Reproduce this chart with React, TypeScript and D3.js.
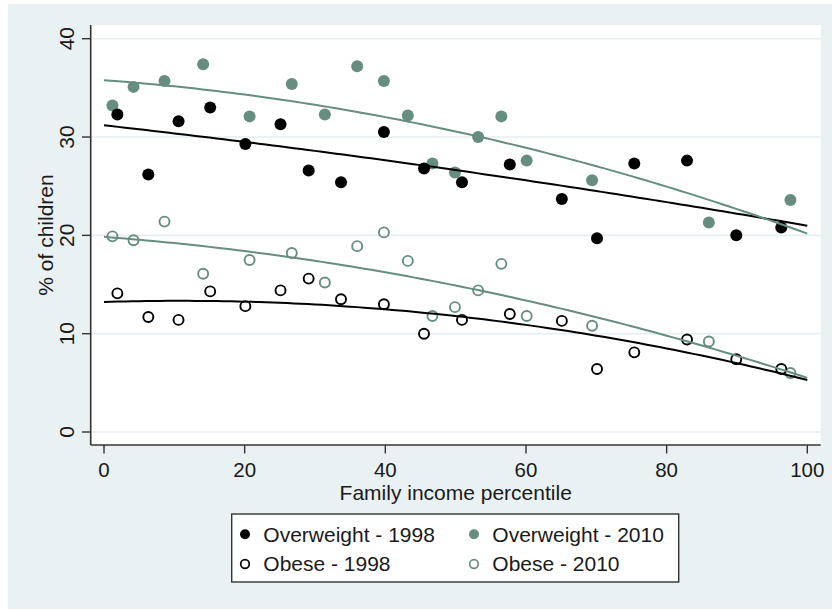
import React from "react";
import * as d3 from "d3";

// Percentile-bin means (x) and prevalence (%) for each survey year
const x1998: number[] = [1.9, 6.3, 10.6, 15.1, 20.1, 25.1, 29.1, 33.7, 39.8, 45.5, 50.9, 57.7, 65.1, 70.1, 75.4, 82.9, 89.9, 96.3];
const overweight1998: number[] = [32.3, 26.2, 31.6, 33.0, 29.3, 31.3, 26.6, 25.4, 30.5, 26.8, 25.4, 27.2, 23.7, 19.7, 27.3, 27.6, 20.0, 20.8];
const obese1998: number[] = [14.1, 11.7, 11.4, 14.3, 12.8, 14.4, 15.6, 13.5, 13.0, 10.0, 11.4, 12.0, 11.3, 6.4, 8.1, 9.4, 7.4, 6.4];

const x2010: number[] = [1.2, 4.2, 8.6, 14.1, 20.7, 26.7, 31.4, 36.0, 39.8, 43.2, 46.7, 49.9, 53.2, 56.5, 60.1, 69.4, 86.0, 97.6];
const overweight2010: number[] = [33.2, 35.1, 35.7, 37.4, 32.1, 35.4, 32.3, 37.2, 35.7, 32.2, 27.3, 26.4, 30.0, 32.1, 27.6, 25.6, 21.3, 23.6];
const obese2010: number[] = [19.9, 19.5, 21.4, 16.1, 17.5, 18.2, 15.2, 18.9, 20.3, 17.4, 11.8, 12.7, 14.4, 17.1, 11.8, 10.8, 9.2, 6.0];

const xTicks: number[] = [0, 20, 40, 60, 80, 100];
const yTicks: number[] = [0, 10, 20, 30, 40];

const legendLabels: string[] = ["Overweight - 1998", "Overweight - 2010", "Obese - 1998", "Obese - 2010"];

const BLACK = "#000000";
const GREEN = "#668d7f";
const FONT = "'Liberation Sans', Arial, Helvetica, sans-serif";

// Least-squares quadratic fit y = a + b x + c x^2
function quadFit(xs: number[], ys: number[]): (x: number) => number {
  let s0 = 0, s1 = 0, s2 = 0, s3 = 0, s4 = 0, t0 = 0, t1 = 0, t2 = 0;
  xs.forEach((x, i) => {
    const y = ys[i];
    s0 += 1; s1 += x; s2 += x * x; s3 += x * x * x; s4 += x * x * x * x;
    t0 += y; t1 += x * y; t2 += x * x * y;
  });
  const M = [
    [s0, s1, s2, t0],
    [s1, s2, s3, t1],
    [s2, s3, s4, t2],
  ];
  for (let i = 0; i < 3; i++) {
    for (let k = i + 1; k < 3; k++) {
      const f = M[k][i] / M[i][i];
      for (let j = i; j < 4; j++) M[k][j] -= f * M[i][j];
    }
  }
  const c = M[2][3] / M[2][2];
  const b = (M[1][3] - M[1][2] * c) / M[1][1];
  const a = (M[0][3] - M[0][1] * b - M[0][2] * c) / M[0][0];
  return (x: number) => a + b * x + c * x * x;
}

export default function App() {
  const W = 832;
  const H = 610;
  const plot = { left: 90.7, right: 820.7, top: 25, bottom: 445 };

  const x = d3.scaleLinear().domain([0, 100]).range([104, 807.3]);
  const y = d3.scaleLinear().domain([0, 40]).range([432, 38.7]);

  const fitXs = d3.range(0, 100.01, 1);
  const line = d3
    .line<number[]>()
    .x((d) => x(d[0]))
    .y((d) => y(d[1]));

  const fitPath = (xs: number[], ys: number[]) => {
    const f = quadFit(xs, ys);
    return line(fitXs.map((v) => [v, f(v)])) || "";
  };

  const filled = (xs: number[], ys: number[], color: string, key: string) =>
    xs.map((v, i) => (
      <circle key={key + i} cx={x(v)} cy={y(ys[i])} r={6} fill={color} />
    ));
  const hollow = (xs: number[], ys: number[], color: string, key: string) =>
    xs.map((v, i) => (
      <circle key={key + i} cx={x(v)} cy={y(ys[i])} r={5} fill="none" stroke={color} strokeWidth={1.9} />
    ));

  const legendItems = [
    { label: legendLabels[0], color: BLACK, solid: true, col: 0, row: 0 },
    { label: legendLabels[1], color: GREEN, solid: true, col: 1, row: 0 },
    { label: legendLabels[2], color: BLACK, solid: false, col: 0, row: 1 },
    { label: legendLabels[3], color: GREEN, solid: false, col: 1, row: 1 },
  ];
  const legendColX = [245, 474];
  const legendRowY = [534.3, 564];

  return (
    <svg
      width={W}
      height={H}
      style={{ position: "absolute", left: 0, top: 0, display: "block" }}
      fontFamily={FONT}
    >
      <rect x={0} y={0} width={W} height={H} fill="#ffffff" />
      <rect x={8} y={4} width={W - 8} height={605} fill="#e9f1f3" />
      <rect
        x={plot.left}
        y={plot.top}
        width={plot.right - plot.left}
        height={plot.bottom - plot.top}
        fill="#ffffff"
      />

      {/* horizontal gridlines */}
      {yTicks.map((t) => (
        <line
          key={"g" + t}
          x1={plot.left}
          x2={plot.right}
          y1={y(t)}
          y2={y(t)}
          stroke="#e6eef1"
          strokeWidth={1.6}
        />
      ))}

      {/* scatter points */}
      {filled(x2010, overweight2010, GREEN, "ow10")}
      {filled(x1998, overweight1998, BLACK, "ow98")}
      {hollow(x2010, obese2010, GREEN, "ob10")}
      {hollow(x1998, obese1998, BLACK, "ob98")}

      {/* quadratic fit lines */}
      <path d={fitPath(x1998, overweight1998)} fill="none" stroke={BLACK} strokeWidth={2} />
      <path d={fitPath(x1998, obese1998)} fill="none" stroke={BLACK} strokeWidth={2} />
      <path d={fitPath(x2010, overweight2010)} fill="none" stroke={GREEN} strokeWidth={2} />
      <path d={fitPath(x2010, obese2010)} fill="none" stroke={GREEN} strokeWidth={2} />

      {/* axes */}
      <line x1={plot.left} x2={plot.left} y1={plot.top} y2={plot.bottom} stroke="#333" strokeWidth={1.6} />
      <line x1={plot.left} x2={plot.right} y1={plot.bottom} y2={plot.bottom} stroke="#333" strokeWidth={1.6} />

      {yTicks.map((t) => (
        <g key={"yt" + t}>
          <line x1={82} x2={plot.left} y1={y(t)} y2={y(t)} stroke="#333" strokeWidth={1.4} />
          <text
            transform={`translate(74,${y(t)}) rotate(-90)`}
            textAnchor="middle"
            fontSize={21}
            fill="#1a1a1a"
          >
            {t}
          </text>
        </g>
      ))}
      {xTicks.map((t) => (
        <g key={"xt" + t}>
          <line x1={x(t)} x2={x(t)} y1={plot.bottom} y2={453.5} stroke="#333" strokeWidth={1.4} />
          <text x={x(t)} y={477} textAnchor="middle" fontSize={20.5} fill="#1a1a1a">
            {t}
          </text>
        </g>
      ))}

      {/* axis titles */}
      <text x={455.7} y={500} textAnchor="middle" fontSize={21} fill="#1a1a1a">
        Family income percentile
      </text>
      <text
        transform={`translate(53,${(plot.top + plot.bottom) / 2}) rotate(-90)`}
        textAnchor="middle"
        fontSize={21}
        fill="#1a1a1a"
      >
        % of children
      </text>

      {/* legend */}
      <rect x={231.7} y={514} width={447} height={68} fill="#ffffff" stroke="#333" strokeWidth={1.4} />
      {legendItems.map((it) => (
        <g key={it.label}>
          {it.solid ? (
            <circle cx={legendColX[it.col]} cy={legendRowY[it.row]} r={5} fill={it.color} />
          ) : (
            <circle
              cx={legendColX[it.col]}
              cy={legendRowY[it.row]}
              r={4.3}
              fill="none"
              stroke={it.color}
              strokeWidth={1.7}
            />
          )}
          <text
            x={legendColX[it.col] + 18.3}
            y={legendRowY[it.row] + 7.3}
            fontSize={21}
            fill="#1a1a1a"
          >
            {it.label}
          </text>
        </g>
      ))}
    </svg>
  );
}
